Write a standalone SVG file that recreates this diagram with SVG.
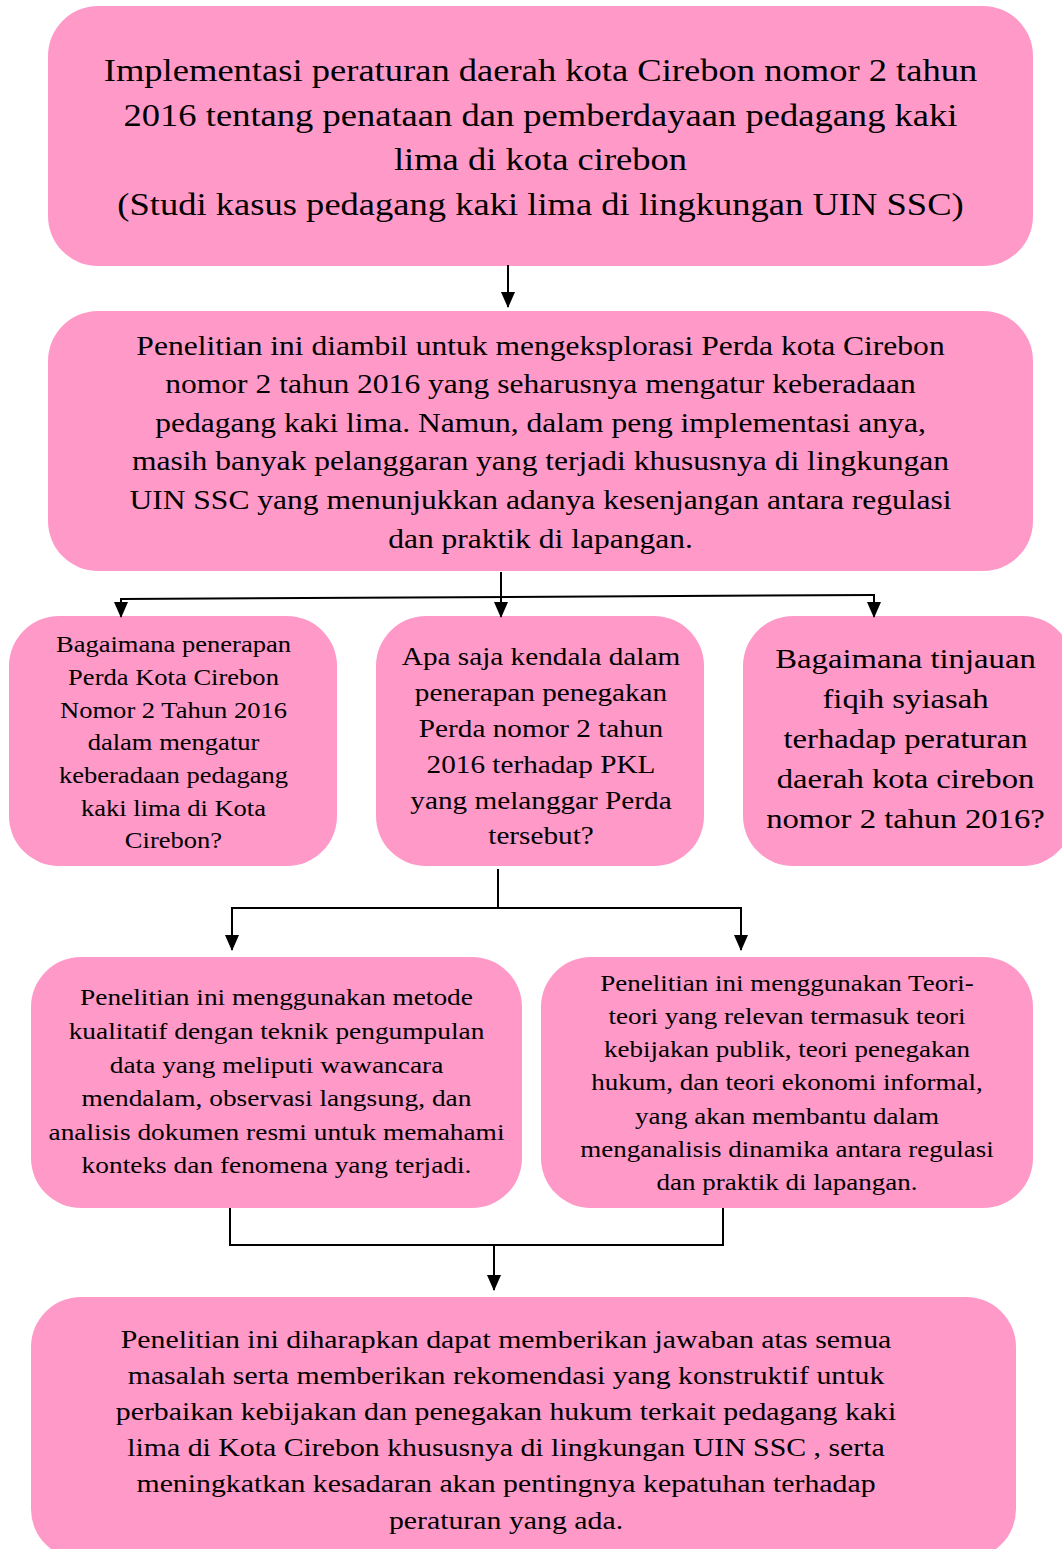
<svg xmlns="http://www.w3.org/2000/svg" width="1062" height="1549" viewBox="0 0 1062 1549">
<style>
.box{fill:#FF99C8;}
text{font-family:"Liberation Serif","Times New Roman",serif;fill:#000;text-anchor:middle;}
.c{stroke:#000;stroke-width:2;fill:none;}
</style>
<defs>
<marker id="ah" markerWidth="16" markerHeight="14" refX="15" refY="7" orient="auto" markerUnits="userSpaceOnUse" viewBox="0 0 16 14">
<path d="M0,0 L16,7 L0,14 Z" fill="#000"/>
</marker>
</defs>
<rect width="1062" height="1549" fill="#fff"/>
<g id="n1"><rect class="box" x="48" y="6" width="985" height="260" rx="50"/>
<g transform="translate(540.5 0) scale(1.16 1)"><text font-size="31.5"><tspan x="0" y="81">Implementasi peraturan daerah kota Cirebon nomor 2 tahun</tspan><tspan x="0" y="126">2016 tentang penataan dan pemberdayaan pedagang kaki</tspan><tspan x="0" y="170">lima di kota cirebon</tspan><tspan x="0" y="215">(Studi kasus pedagang kaki lima di lingkungan UIN SSC)</tspan></text></g></g>
<g id="n2"><rect class="box" x="48" y="311" width="985" height="260" rx="50"/>
<g transform="translate(540.5 0) scale(1.16 1)"><text font-size="27.2"><tspan x="0" y="355">Penelitian ini diambil untuk mengeksplorasi Perda kota Cirebon</tspan><tspan x="0" y="393">nomor 2 tahun 2016 yang seharusnya mengatur keberadaan</tspan><tspan x="0" y="432">pedagang kaki lima. Namun, dalam peng implementasi anya,</tspan><tspan x="0" y="470">masih banyak pelanggaran yang terjadi khususnya di lingkungan</tspan><tspan x="0" y="509">UIN SSC yang menunjukkan adanya kesenjangan antara regulasi</tspan><tspan x="0" y="548">dan praktik di lapangan.</tspan></text></g></g>
<g id="n3"><rect class="box" x="9" y="616" width="328" height="250" rx="50"/>
<g transform="translate(173.5 0) scale(1.16 1)"><text font-size="22.9"><tspan x="0" y="652">Bagaimana penerapan</tspan><tspan x="0" y="685">Perda Kota Cirebon</tspan><tspan x="0" y="718">Nomor 2 Tahun 2016</tspan><tspan x="0" y="750">dalam mengatur</tspan><tspan x="0" y="783">keberadaan pedagang</tspan><tspan x="0" y="816">kaki lima di Kota</tspan><tspan x="0" y="848">Cirebon?</tspan></text></g></g>
<g id="n4"><rect class="box" x="376" y="616" width="328" height="250" rx="50"/>
<g transform="translate(541 0) scale(1.16 1)"><text font-size="25.2"><tspan x="0" y="665">Apa saja kendala dalam</tspan><tspan x="0" y="701">penerapan penegakan</tspan><tspan x="0" y="737">Perda nomor 2 tahun</tspan><tspan x="0" y="773">2016 terhadap PKL</tspan><tspan x="0" y="809">yang melanggar Perda</tspan><tspan x="0" y="844">tersebut?</tspan></text></g></g>
<g id="n5"><rect class="box" x="743" y="616" width="330" height="250" rx="50"/>
<g transform="translate(905.5 0) scale(1.16 1)"><text font-size="28.2"><tspan x="0" y="668">Bagaimana tinjauan</tspan><tspan x="0" y="708">fiqih syiasah</tspan><tspan x="0" y="748">terhadap peraturan</tspan><tspan x="0" y="788">daerah kota cirebon</tspan><tspan x="0" y="828">nomor 2 tahun 2016?</tspan></text></g></g>
<g id="n6"><rect class="box" x="31" y="957" width="491" height="251" rx="50"/>
<g transform="translate(276.5 0) scale(1.16 1)"><text font-size="23.6"><tspan x="0" y="1005">Penelitian ini menggunakan metode</tspan><tspan x="0" y="1039">kualitatif dengan teknik pengumpulan</tspan><tspan x="0" y="1073">data yang meliputi wawancara</tspan><tspan x="0" y="1106">mendalam, observasi langsung, dan</tspan><tspan x="0" y="1140">analisis dokumen resmi untuk memahami</tspan><tspan x="0" y="1173">konteks dan fenomena yang terjadi.</tspan></text></g></g>
<g id="n7"><rect class="box" x="541" y="957" width="492" height="251" rx="50"/>
<g transform="translate(787 0) scale(1.16 1)"><text font-size="23.3"><tspan x="0" y="991">Penelitian ini menggunakan Teori-</tspan><tspan x="0" y="1024">teori yang relevan termasuk teori</tspan><tspan x="0" y="1057">kebijakan publik, teori penegakan</tspan><tspan x="0" y="1090">hukum, dan teori ekonomi informal,</tspan><tspan x="0" y="1124">yang akan membantu dalam</tspan><tspan x="0" y="1157">menganalisis dinamika antara regulasi</tspan><tspan x="0" y="1190">dan praktik di lapangan.</tspan></text></g></g>
<g id="n8"><rect class="box" x="31" y="1297" width="985" height="262" rx="50"/>
<g transform="translate(506 0) scale(1.16 1)"><text font-size="25.7"><tspan x="0" y="1348">Penelitian ini diharapkan dapat memberikan jawaban atas semua</tspan><tspan x="0" y="1384">masalah serta memberikan rekomendasi yang konstruktif untuk</tspan><tspan x="0" y="1420">perbaikan kebijakan dan penegakan hukum terkait pedagang kaki</tspan><tspan x="0" y="1456">lima di Kota Cirebon khususnya di lingkungan UIN SSC , serta</tspan><tspan x="0" y="1492">meningkatkan kesadaran akan pentingnya kepatuhan terhadap</tspan><tspan x="0" y="1529">peraturan yang ada.</tspan></text></g></g>
<g id="connectors">
<path class="c" d="M508,265 V307" marker-end="url(#ah)"/>
<path class="c" d="M501,572 V617" marker-end="url(#ah)"/>
<path class="c" d="M121,599 L874,595"/>
<path class="c" d="M121,598 V617" marker-end="url(#ah)"/>
<path class="c" d="M874,594 V617" marker-end="url(#ah)"/>
<path class="c" d="M498,869 V908"/>
<path class="c" d="M232,908 H741"/>
<path class="c" d="M232,907 V950" marker-end="url(#ah)"/>
<path class="c" d="M741,907 V950" marker-end="url(#ah)"/>
<path class="c" d="M230,1208 V1245 H723 V1208"/>
<path class="c" d="M494,1245 V1290" marker-end="url(#ah)"/>
</g>
</svg>
